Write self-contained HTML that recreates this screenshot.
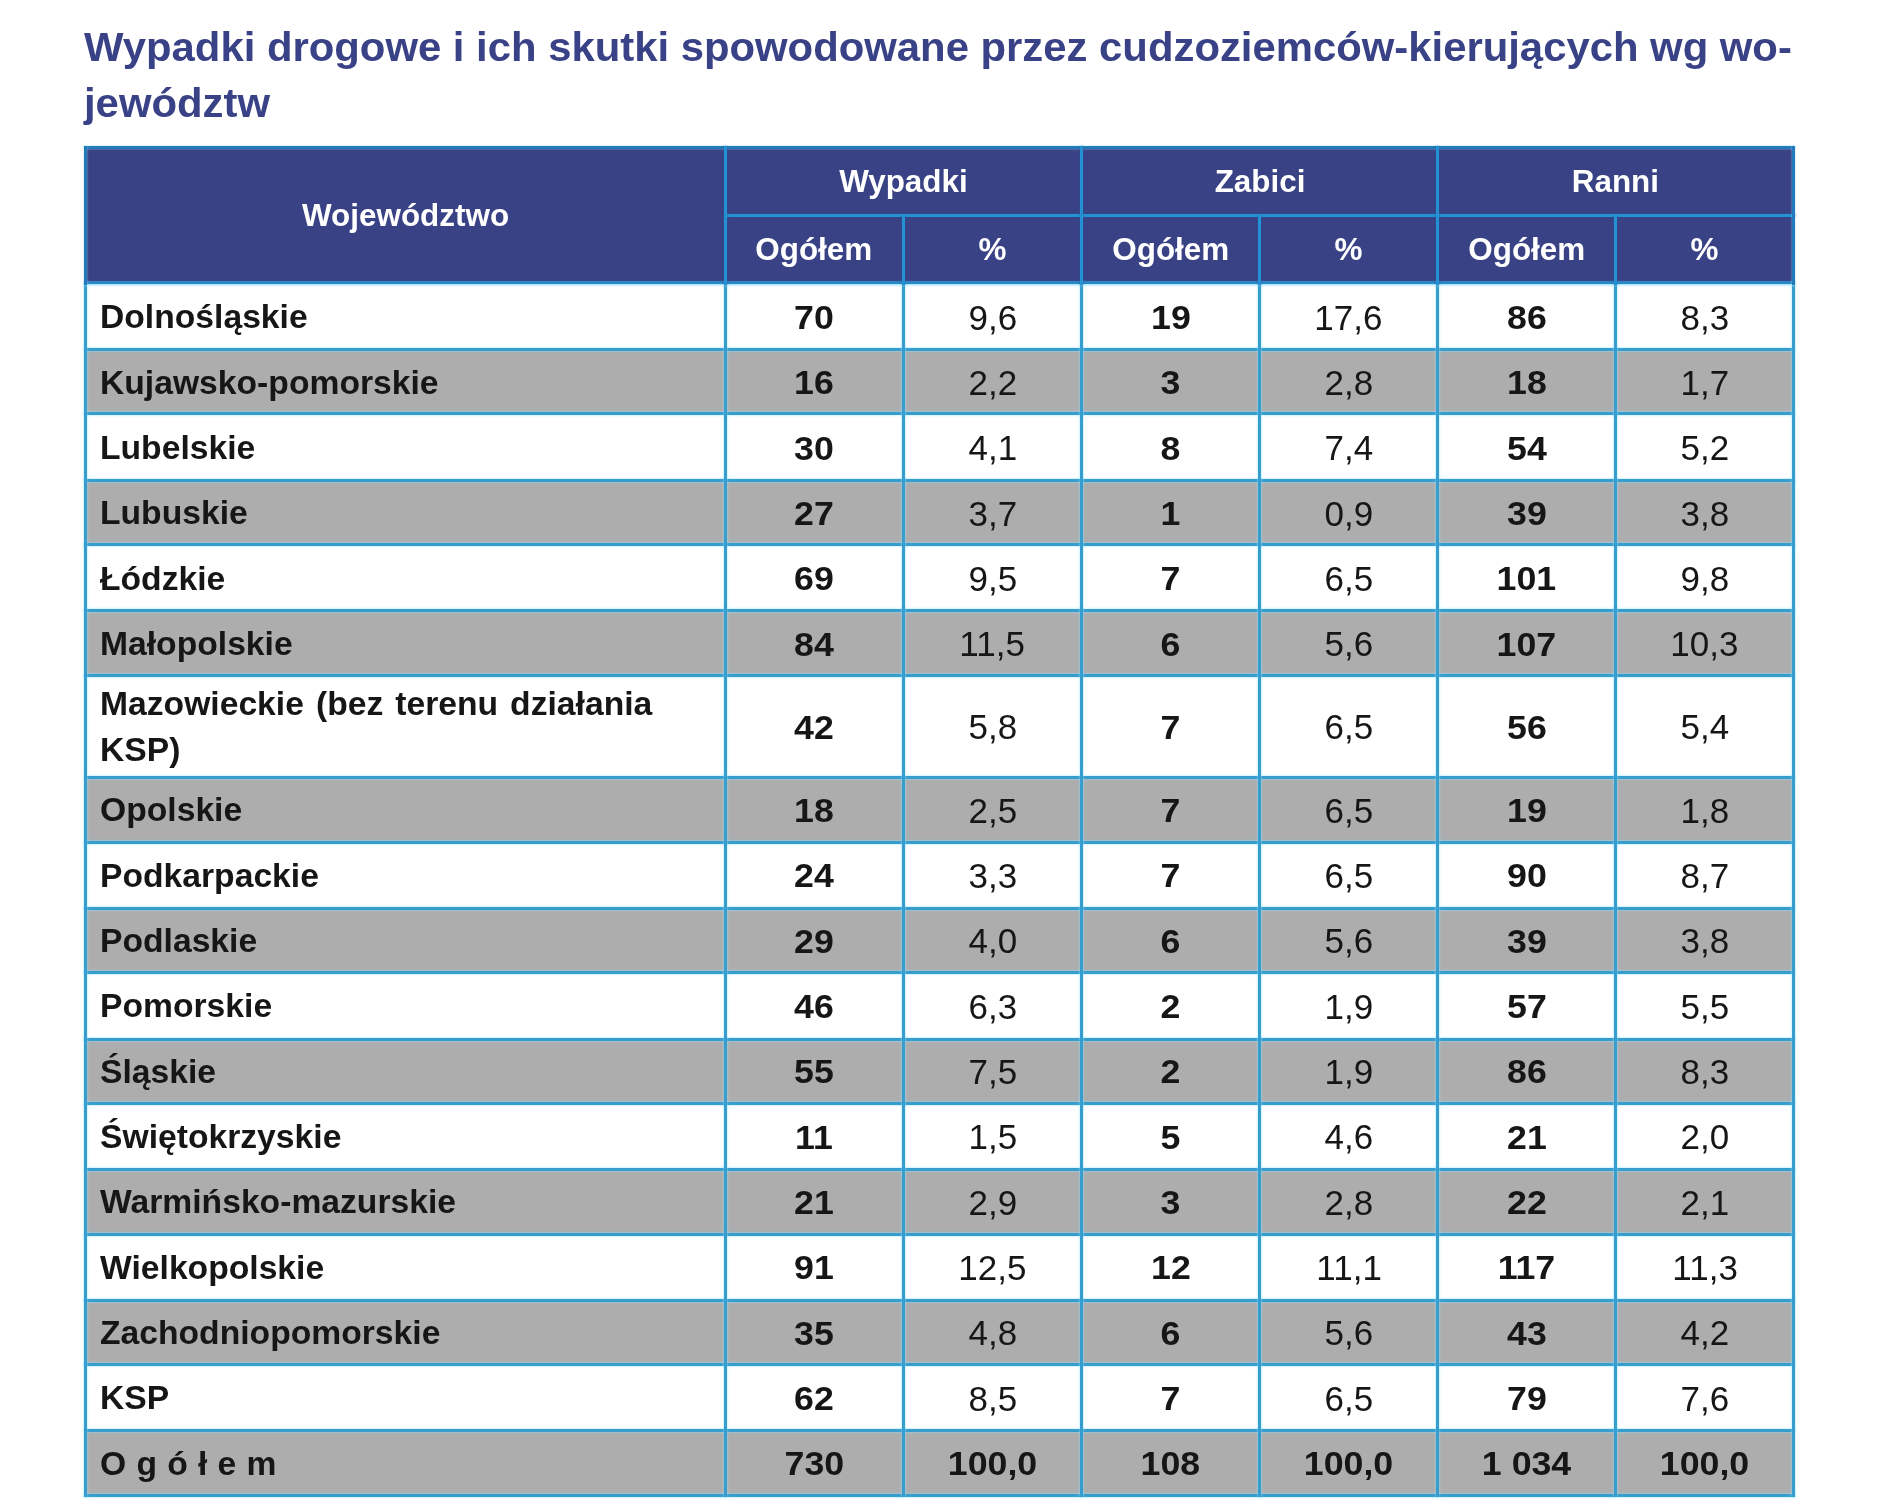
<!DOCTYPE html>
<html lang="pl"><head><meta charset="utf-8"><title>Wypadki drogowe</title>
<style>
html,body{margin:0;padding:0;background:#fff;}
body{width:1880px;height:1510px;position:relative;overflow:hidden;font-family:"Liberation Sans",sans-serif;filter:blur(0.5px);}
.abs{position:absolute;}
.t{position:absolute;font-weight:bold;color:#3a4287;font-size:40.5px;line-height:56px;white-space:nowrap;left:83.5px;}
.t span{display:inline-block;transform:scaleX(1.033);transform-origin:0 50%;}
.bg{position:absolute;}
.ln{position:absolute;background:#379dcf;box-shadow:0 0 2.5px rgba(140,225,250,1);}
.ln.hd{background:#2590d2;box-shadow:0 0 2px rgba(30,90,160,.9);}
.ln.hb{background:#2a86c6;box-shadow:0 1.5px 2px rgba(150,225,250,.9);}
.ln.ho{background:#2479bb;box-shadow:0 0 2px rgba(150,220,245,.9);}
.c{position:absolute;display:flex;align-items:center;justify-content:center;font-size:33px;color:#161616;white-space:nowrap;}
.c span.s{display:inline-block;transform:scaleX(1.02);}
.c.n{font-size:34.3px;}
.c.b.n{font-size:34px;}
.c.b span.s{transform:scaleX(1.05);}
.c.l span.s{transform:scaleX(1.02);transform-origin:0 50%;}
.c.h span.s{transform:scaleX(1.03);}
.c.b{font-weight:bold;}
.c.l{justify-content:flex-start;font-weight:bold;line-height:45.5px;}
.c.h{color:#fff;font-weight:bold;font-size:30.5px;}
.sp{letter-spacing:10px;}
</style></head><body>

<div class="t" style="top:18.7px"><span>Wypadki drogowe i ich skutki spowodowane przez cudzoziemców-kierujących wg wo-</span></div>
<div class="t" style="top:74.7px"><span>jewództw</span></div>
<div class="bg" style="left:85.6px;top:147.3px;width:1708.1px;height:135.7px;background:#394285"></div>
<div class="bg" style="left:85.6px;top:349.6px;width:1708.1px;height:64.4px;background:#adadad"></div>
<div class="bg" style="left:85.6px;top:480.5px;width:1708.1px;height:63.9px;background:#adadad"></div>
<div class="bg" style="left:85.6px;top:610.1px;width:1708.1px;height:65.8px;background:#adadad"></div>
<div class="bg" style="left:85.6px;top:777.1px;width:1708.1px;height:65.2px;background:#adadad"></div>
<div class="bg" style="left:85.6px;top:908.2px;width:1708.1px;height:64.2px;background:#adadad"></div>
<div class="bg" style="left:85.6px;top:1039.2px;width:1708.1px;height:64.1px;background:#adadad"></div>
<div class="bg" style="left:85.6px;top:1169.2px;width:1708.1px;height:65.2px;background:#adadad"></div>
<div class="bg" style="left:85.6px;top:1300.2px;width:1708.1px;height:64.4px;background:#adadad"></div>
<div class="bg" style="left:85.6px;top:1430.5px;width:1708.1px;height:64.9px;background:#adadad"></div>
<div class="ln" style="left:84.0px;top:348.1px;width:1711.2px;height:3.1px"></div>
<div class="ln" style="left:84.0px;top:412.4px;width:1711.2px;height:3.1px"></div>
<div class="ln" style="left:84.0px;top:478.9px;width:1711.2px;height:3.1px"></div>
<div class="ln" style="left:84.0px;top:542.9px;width:1711.2px;height:3.1px"></div>
<div class="ln" style="left:84.0px;top:608.6px;width:1711.2px;height:3.1px"></div>
<div class="ln" style="left:84.0px;top:674.4px;width:1711.2px;height:3.1px"></div>
<div class="ln" style="left:84.0px;top:775.6px;width:1711.2px;height:3.1px"></div>
<div class="ln" style="left:84.0px;top:840.8px;width:1711.2px;height:3.1px"></div>
<div class="ln" style="left:84.0px;top:906.7px;width:1711.2px;height:3.1px"></div>
<div class="ln" style="left:84.0px;top:970.9px;width:1711.2px;height:3.1px"></div>
<div class="ln" style="left:84.0px;top:1037.7px;width:1711.2px;height:3.1px"></div>
<div class="ln" style="left:84.0px;top:1101.8px;width:1711.2px;height:3.1px"></div>
<div class="ln" style="left:84.0px;top:1167.7px;width:1711.2px;height:3.1px"></div>
<div class="ln" style="left:84.0px;top:1232.9px;width:1711.2px;height:3.1px"></div>
<div class="ln" style="left:84.0px;top:1298.7px;width:1711.2px;height:3.1px"></div>
<div class="ln" style="left:84.0px;top:1363.0px;width:1711.2px;height:3.1px"></div>
<div class="ln" style="left:84.0px;top:1429.0px;width:1711.2px;height:3.1px"></div>
<div class="ln" style="left:84.0px;top:1493.9px;width:1711.2px;height:3.1px"></div>
<div class="ln" style="left:84.0px;top:281.4px;width:3.1px;height:1215.5px"></div>
<div class="ln" style="left:723.5px;top:281.4px;width:3.1px;height:1215.5px"></div>
<div class="ln" style="left:901.8px;top:281.4px;width:3.1px;height:1215.5px"></div>
<div class="ln" style="left:1080.0px;top:281.4px;width:3.1px;height:1215.5px"></div>
<div class="ln" style="left:1258.0px;top:281.4px;width:3.1px;height:1215.5px"></div>
<div class="ln" style="left:1436.2px;top:281.4px;width:3.1px;height:1215.5px"></div>
<div class="ln" style="left:1614.2px;top:281.4px;width:3.1px;height:1215.5px"></div>
<div class="ln" style="left:1792.2px;top:281.4px;width:3.1px;height:1215.5px"></div>
<div class="ln ho" style="left:84.0px;top:145.8px;width:1711.2px;height:3.1px"></div>
<div class="ln hd" style="left:723.5px;top:213.5px;width:1071.8px;height:3.1px"></div>
<div class="ln hb" style="left:84.0px;top:281.4px;width:1711.2px;height:3.1px"></div>
<div class="ln ho" style="left:84.0px;top:145.8px;width:3.1px;height:138.8px"></div>
<div class="ln ho" style="left:1792.2px;top:145.8px;width:3.1px;height:138.8px"></div>
<div class="ln hd" style="left:723.5px;top:145.8px;width:3.1px;height:138.8px"></div>
<div class="ln hd" style="left:1080.0px;top:145.8px;width:3.1px;height:138.8px"></div>
<div class="ln hd" style="left:1436.2px;top:145.8px;width:3.1px;height:138.8px"></div>
<div class="ln hd" style="left:901.8px;top:213.5px;width:3.1px;height:71.0px"></div>
<div class="ln hd" style="left:1258.0px;top:213.5px;width:3.1px;height:71.0px"></div>
<div class="ln hd" style="left:1614.2px;top:213.5px;width:3.1px;height:71.0px"></div>
<div class="c h" style="left:85.6px;top:147.8px;width:639.4px;height:135.7px;"><span class="s">Województwo</span></div>
<div class="c h" style="left:725.0px;top:147.8px;width:356.5px;height:67.8px;"><span class="s">Wypadki</span></div>
<div class="c h" style="left:1081.5px;top:147.8px;width:356.3px;height:67.8px;"><span class="s">Zabici</span></div>
<div class="c h" style="left:1437.8px;top:147.8px;width:355.9px;height:67.8px;"><span class="s">Ranni</span></div>
<div class="c h" style="left:725.0px;top:215.6px;width:178.3px;height:67.9px;"><span class="s">Ogółem</span></div>
<div class="c h" style="left:903.3px;top:215.6px;width:178.2px;height:67.9px;"><span class="s">%</span></div>
<div class="c h" style="left:1081.5px;top:215.6px;width:178.1px;height:67.9px;"><span class="s">Ogółem</span></div>
<div class="c h" style="left:1259.6px;top:215.6px;width:178.2px;height:67.9px;"><span class="s">%</span></div>
<div class="c h" style="left:1437.8px;top:215.6px;width:178.0px;height:67.9px;"><span class="s">Ogółem</span></div>
<div class="c h" style="left:1615.8px;top:215.6px;width:177.9px;height:67.9px;"><span class="s">%</span></div>
<div class="c l" style="left:85.6px;top:292.2px;width:639.4px;height:50.0px;padding-left:14.0px;box-sizing:border-box;"><span class="s">Dolnośląskie</span></div>
<div class="c b n" style="left:725.0px;top:292.5px;width:178.3px;height:50.0px;"><span class="s">70</span></div>
<div class="c n" style="left:903.3px;top:293.0px;width:178.2px;height:50.0px;"><span class="s">9,6</span></div>
<div class="c b n" style="left:1081.5px;top:292.5px;width:178.1px;height:50.0px;"><span class="s">19</span></div>
<div class="c n" style="left:1259.6px;top:293.0px;width:178.2px;height:50.0px;"><span class="s">17,6</span></div>
<div class="c b n" style="left:1437.8px;top:292.5px;width:178.0px;height:50.0px;"><span class="s">86</span></div>
<div class="c n" style="left:1615.8px;top:293.0px;width:177.9px;height:50.0px;"><span class="s">8,3</span></div>
<div class="c l" style="left:85.6px;top:357.5px;width:639.4px;height:50.0px;padding-left:14.0px;box-sizing:border-box;"><span class="s">Kujawsko-pomorskie</span></div>
<div class="c b n" style="left:725.0px;top:357.8px;width:178.3px;height:50.0px;"><span class="s">16</span></div>
<div class="c n" style="left:903.3px;top:358.3px;width:178.2px;height:50.0px;"><span class="s">2,2</span></div>
<div class="c b n" style="left:1081.5px;top:357.8px;width:178.1px;height:50.0px;"><span class="s">3</span></div>
<div class="c n" style="left:1259.6px;top:358.3px;width:178.2px;height:50.0px;"><span class="s">2,8</span></div>
<div class="c b n" style="left:1437.8px;top:357.8px;width:178.0px;height:50.0px;"><span class="s">18</span></div>
<div class="c n" style="left:1615.8px;top:358.3px;width:177.9px;height:50.0px;"><span class="s">1,7</span></div>
<div class="c l" style="left:85.6px;top:422.9px;width:639.4px;height:50.0px;padding-left:14.0px;box-sizing:border-box;"><span class="s">Lubelskie</span></div>
<div class="c b n" style="left:725.0px;top:423.2px;width:178.3px;height:50.0px;"><span class="s">30</span></div>
<div class="c n" style="left:903.3px;top:423.7px;width:178.2px;height:50.0px;"><span class="s">4,1</span></div>
<div class="c b n" style="left:1081.5px;top:423.2px;width:178.1px;height:50.0px;"><span class="s">8</span></div>
<div class="c n" style="left:1259.6px;top:423.7px;width:178.2px;height:50.0px;"><span class="s">7,4</span></div>
<div class="c b n" style="left:1437.8px;top:423.2px;width:178.0px;height:50.0px;"><span class="s">54</span></div>
<div class="c n" style="left:1615.8px;top:423.7px;width:177.9px;height:50.0px;"><span class="s">5,2</span></div>
<div class="c l" style="left:85.6px;top:488.2px;width:639.4px;height:50.0px;padding-left:14.0px;box-sizing:border-box;"><span class="s">Lubuskie</span></div>
<div class="c b n" style="left:725.0px;top:488.5px;width:178.3px;height:50.0px;"><span class="s">27</span></div>
<div class="c n" style="left:903.3px;top:489.0px;width:178.2px;height:50.0px;"><span class="s">3,7</span></div>
<div class="c b n" style="left:1081.5px;top:488.5px;width:178.1px;height:50.0px;"><span class="s">1</span></div>
<div class="c n" style="left:1259.6px;top:489.0px;width:178.2px;height:50.0px;"><span class="s">0,9</span></div>
<div class="c b n" style="left:1437.8px;top:488.5px;width:178.0px;height:50.0px;"><span class="s">39</span></div>
<div class="c n" style="left:1615.8px;top:489.0px;width:177.9px;height:50.0px;"><span class="s">3,8</span></div>
<div class="c l" style="left:85.6px;top:553.5px;width:639.4px;height:50.0px;padding-left:14.0px;box-sizing:border-box;"><span class="s">Łódzkie</span></div>
<div class="c b n" style="left:725.0px;top:553.8px;width:178.3px;height:50.0px;"><span class="s">69</span></div>
<div class="c n" style="left:903.3px;top:554.3px;width:178.2px;height:50.0px;"><span class="s">9,5</span></div>
<div class="c b n" style="left:1081.5px;top:553.8px;width:178.1px;height:50.0px;"><span class="s">7</span></div>
<div class="c n" style="left:1259.6px;top:554.3px;width:178.2px;height:50.0px;"><span class="s">6,5</span></div>
<div class="c b n" style="left:1437.8px;top:553.8px;width:178.0px;height:50.0px;"><span class="s">101</span></div>
<div class="c n" style="left:1615.8px;top:554.3px;width:177.9px;height:50.0px;"><span class="s">9,8</span></div>
<div class="c l" style="left:85.6px;top:618.8px;width:639.4px;height:50.0px;padding-left:14.0px;box-sizing:border-box;"><span class="s">Małopolskie</span></div>
<div class="c b n" style="left:725.0px;top:619.1px;width:178.3px;height:50.0px;"><span class="s">84</span></div>
<div class="c n" style="left:903.3px;top:619.6px;width:178.2px;height:50.0px;"><span class="s">11,5</span></div>
<div class="c b n" style="left:1081.5px;top:619.1px;width:178.1px;height:50.0px;"><span class="s">6</span></div>
<div class="c n" style="left:1259.6px;top:619.6px;width:178.2px;height:50.0px;"><span class="s">5,6</span></div>
<div class="c b n" style="left:1437.8px;top:619.1px;width:178.0px;height:50.0px;"><span class="s">107</span></div>
<div class="c n" style="left:1615.8px;top:619.6px;width:177.9px;height:50.0px;"><span class="s">10,3</span></div>
<div class="c l" style="left:85.6px;top:678.6px;width:639.4px;height:96.0px;padding-left:14.0px;box-sizing:border-box;"><span class="s"><span style='word-spacing:2.6px'>Mazowieckie (bez terenu działania</span><br>KSP)</span></div>
<div class="c b n" style="left:725.0px;top:702.3px;width:178.3px;height:50.0px;"><span class="s">42</span></div>
<div class="c n" style="left:903.3px;top:702.8px;width:178.2px;height:50.0px;"><span class="s">5,8</span></div>
<div class="c b n" style="left:1081.5px;top:702.3px;width:178.1px;height:50.0px;"><span class="s">7</span></div>
<div class="c n" style="left:1259.6px;top:702.8px;width:178.2px;height:50.0px;"><span class="s">6,5</span></div>
<div class="c b n" style="left:1437.8px;top:702.3px;width:178.0px;height:50.0px;"><span class="s">56</span></div>
<div class="c n" style="left:1615.8px;top:702.8px;width:177.9px;height:50.0px;"><span class="s">5,4</span></div>
<div class="c l" style="left:85.6px;top:785.2px;width:639.4px;height:50.0px;padding-left:14.0px;box-sizing:border-box;"><span class="s">Opolskie</span></div>
<div class="c b n" style="left:725.0px;top:785.5px;width:178.3px;height:50.0px;"><span class="s">18</span></div>
<div class="c n" style="left:903.3px;top:786.0px;width:178.2px;height:50.0px;"><span class="s">2,5</span></div>
<div class="c b n" style="left:1081.5px;top:785.5px;width:178.1px;height:50.0px;"><span class="s">7</span></div>
<div class="c n" style="left:1259.6px;top:786.0px;width:178.2px;height:50.0px;"><span class="s">6,5</span></div>
<div class="c b n" style="left:1437.8px;top:785.5px;width:178.0px;height:50.0px;"><span class="s">19</span></div>
<div class="c n" style="left:1615.8px;top:786.0px;width:177.9px;height:50.0px;"><span class="s">1,8</span></div>
<div class="c l" style="left:85.6px;top:850.6px;width:639.4px;height:50.0px;padding-left:14.0px;box-sizing:border-box;"><span class="s">Podkarpackie</span></div>
<div class="c b n" style="left:725.0px;top:850.9px;width:178.3px;height:50.0px;"><span class="s">24</span></div>
<div class="c n" style="left:903.3px;top:851.4px;width:178.2px;height:50.0px;"><span class="s">3,3</span></div>
<div class="c b n" style="left:1081.5px;top:850.9px;width:178.1px;height:50.0px;"><span class="s">7</span></div>
<div class="c n" style="left:1259.6px;top:851.4px;width:178.2px;height:50.0px;"><span class="s">6,5</span></div>
<div class="c b n" style="left:1437.8px;top:850.9px;width:178.0px;height:50.0px;"><span class="s">90</span></div>
<div class="c n" style="left:1615.8px;top:851.4px;width:177.9px;height:50.0px;"><span class="s">8,7</span></div>
<div class="c l" style="left:85.6px;top:915.9px;width:639.4px;height:50.0px;padding-left:14.0px;box-sizing:border-box;"><span class="s">Podlaskie</span></div>
<div class="c b n" style="left:725.0px;top:916.2px;width:178.3px;height:50.0px;"><span class="s">29</span></div>
<div class="c n" style="left:903.3px;top:916.7px;width:178.2px;height:50.0px;"><span class="s">4,0</span></div>
<div class="c b n" style="left:1081.5px;top:916.2px;width:178.1px;height:50.0px;"><span class="s">6</span></div>
<div class="c n" style="left:1259.6px;top:916.7px;width:178.2px;height:50.0px;"><span class="s">5,6</span></div>
<div class="c b n" style="left:1437.8px;top:916.2px;width:178.0px;height:50.0px;"><span class="s">39</span></div>
<div class="c n" style="left:1615.8px;top:916.7px;width:177.9px;height:50.0px;"><span class="s">3,8</span></div>
<div class="c l" style="left:85.6px;top:981.2px;width:639.4px;height:50.0px;padding-left:14.0px;box-sizing:border-box;"><span class="s">Pomorskie</span></div>
<div class="c b n" style="left:725.0px;top:981.5px;width:178.3px;height:50.0px;"><span class="s">46</span></div>
<div class="c n" style="left:903.3px;top:982.0px;width:178.2px;height:50.0px;"><span class="s">6,3</span></div>
<div class="c b n" style="left:1081.5px;top:981.5px;width:178.1px;height:50.0px;"><span class="s">2</span></div>
<div class="c n" style="left:1259.6px;top:982.0px;width:178.2px;height:50.0px;"><span class="s">1,9</span></div>
<div class="c b n" style="left:1437.8px;top:981.5px;width:178.0px;height:50.0px;"><span class="s">57</span></div>
<div class="c n" style="left:1615.8px;top:982.0px;width:177.9px;height:50.0px;"><span class="s">5,5</span></div>
<div class="c l" style="left:85.6px;top:1046.6px;width:639.4px;height:50.0px;padding-left:14.0px;box-sizing:border-box;"><span class="s">Śląskie</span></div>
<div class="c b n" style="left:725.0px;top:1046.9px;width:178.3px;height:50.0px;"><span class="s">55</span></div>
<div class="c n" style="left:903.3px;top:1047.4px;width:178.2px;height:50.0px;"><span class="s">7,5</span></div>
<div class="c b n" style="left:1081.5px;top:1046.9px;width:178.1px;height:50.0px;"><span class="s">2</span></div>
<div class="c n" style="left:1259.6px;top:1047.4px;width:178.2px;height:50.0px;"><span class="s">1,9</span></div>
<div class="c b n" style="left:1437.8px;top:1046.9px;width:178.0px;height:50.0px;"><span class="s">86</span></div>
<div class="c n" style="left:1615.8px;top:1047.4px;width:177.9px;height:50.0px;"><span class="s">8,3</span></div>
<div class="c l" style="left:85.6px;top:1111.9px;width:639.4px;height:50.0px;padding-left:14.0px;box-sizing:border-box;"><span class="s">Świętokrzyskie</span></div>
<div class="c b n" style="left:725.0px;top:1112.2px;width:178.3px;height:50.0px;"><span class="s">11</span></div>
<div class="c n" style="left:903.3px;top:1112.7px;width:178.2px;height:50.0px;"><span class="s">1,5</span></div>
<div class="c b n" style="left:1081.5px;top:1112.2px;width:178.1px;height:50.0px;"><span class="s">5</span></div>
<div class="c n" style="left:1259.6px;top:1112.7px;width:178.2px;height:50.0px;"><span class="s">4,6</span></div>
<div class="c b n" style="left:1437.8px;top:1112.2px;width:178.0px;height:50.0px;"><span class="s">21</span></div>
<div class="c n" style="left:1615.8px;top:1112.7px;width:177.9px;height:50.0px;"><span class="s">2,0</span></div>
<div class="c l" style="left:85.6px;top:1177.2px;width:639.4px;height:50.0px;padding-left:14.0px;box-sizing:border-box;"><span class="s">Warmińsko-mazurskie</span></div>
<div class="c b n" style="left:725.0px;top:1177.5px;width:178.3px;height:50.0px;"><span class="s">21</span></div>
<div class="c n" style="left:903.3px;top:1178.0px;width:178.2px;height:50.0px;"><span class="s">2,9</span></div>
<div class="c b n" style="left:1081.5px;top:1177.5px;width:178.1px;height:50.0px;"><span class="s">3</span></div>
<div class="c n" style="left:1259.6px;top:1178.0px;width:178.2px;height:50.0px;"><span class="s">2,8</span></div>
<div class="c b n" style="left:1437.8px;top:1177.5px;width:178.0px;height:50.0px;"><span class="s">22</span></div>
<div class="c n" style="left:1615.8px;top:1178.0px;width:177.9px;height:50.0px;"><span class="s">2,1</span></div>
<div class="c l" style="left:85.6px;top:1242.6px;width:639.4px;height:50.0px;padding-left:14.0px;box-sizing:border-box;"><span class="s">Wielkopolskie</span></div>
<div class="c b n" style="left:725.0px;top:1242.9px;width:178.3px;height:50.0px;"><span class="s">91</span></div>
<div class="c n" style="left:903.3px;top:1243.4px;width:178.2px;height:50.0px;"><span class="s">12,5</span></div>
<div class="c b n" style="left:1081.5px;top:1242.9px;width:178.1px;height:50.0px;"><span class="s">12</span></div>
<div class="c n" style="left:1259.6px;top:1243.4px;width:178.2px;height:50.0px;"><span class="s">11,1</span></div>
<div class="c b n" style="left:1437.8px;top:1242.9px;width:178.0px;height:50.0px;"><span class="s">117</span></div>
<div class="c n" style="left:1615.8px;top:1243.4px;width:177.9px;height:50.0px;"><span class="s">11,3</span></div>
<div class="c l" style="left:85.6px;top:1307.9px;width:639.4px;height:50.0px;padding-left:14.0px;box-sizing:border-box;"><span class="s">Zachodniopomorskie</span></div>
<div class="c b n" style="left:725.0px;top:1308.2px;width:178.3px;height:50.0px;"><span class="s">35</span></div>
<div class="c n" style="left:903.3px;top:1308.7px;width:178.2px;height:50.0px;"><span class="s">4,8</span></div>
<div class="c b n" style="left:1081.5px;top:1308.2px;width:178.1px;height:50.0px;"><span class="s">6</span></div>
<div class="c n" style="left:1259.6px;top:1308.7px;width:178.2px;height:50.0px;"><span class="s">5,6</span></div>
<div class="c b n" style="left:1437.8px;top:1308.2px;width:178.0px;height:50.0px;"><span class="s">43</span></div>
<div class="c n" style="left:1615.8px;top:1308.7px;width:177.9px;height:50.0px;"><span class="s">4,2</span></div>
<div class="c l" style="left:85.6px;top:1373.2px;width:639.4px;height:50.0px;padding-left:14.0px;box-sizing:border-box;"><span class="s">KSP</span></div>
<div class="c b n" style="left:725.0px;top:1373.5px;width:178.3px;height:50.0px;"><span class="s">62</span></div>
<div class="c n" style="left:903.3px;top:1374.0px;width:178.2px;height:50.0px;"><span class="s">8,5</span></div>
<div class="c b n" style="left:1081.5px;top:1373.5px;width:178.1px;height:50.0px;"><span class="s">7</span></div>
<div class="c n" style="left:1259.6px;top:1374.0px;width:178.2px;height:50.0px;"><span class="s">6,5</span></div>
<div class="c b n" style="left:1437.8px;top:1373.5px;width:178.0px;height:50.0px;"><span class="s">79</span></div>
<div class="c n" style="left:1615.8px;top:1374.0px;width:177.9px;height:50.0px;"><span class="s">7,6</span></div>
<div class="c l" style="left:85.6px;top:1438.5px;width:639.4px;height:50.0px;padding-left:14.0px;box-sizing:border-box;"><span class="s"><span class='sp'>Ogółem</span></span></div>
<div class="c b n" style="left:725.0px;top:1438.8px;width:178.3px;height:50.0px;"><span class="s">730</span></div>
<div class="c b n" style="left:903.3px;top:1438.8px;width:178.2px;height:50.0px;"><span class="s">100,0</span></div>
<div class="c b n" style="left:1081.5px;top:1438.8px;width:178.1px;height:50.0px;"><span class="s">108</span></div>
<div class="c b n" style="left:1259.6px;top:1438.8px;width:178.2px;height:50.0px;"><span class="s">100,0</span></div>
<div class="c b n" style="left:1437.8px;top:1438.8px;width:178.0px;height:50.0px;"><span class="s">1 034</span></div>
<div class="c b n" style="left:1615.8px;top:1438.8px;width:177.9px;height:50.0px;"><span class="s">100,0</span></div>
</body></html>
